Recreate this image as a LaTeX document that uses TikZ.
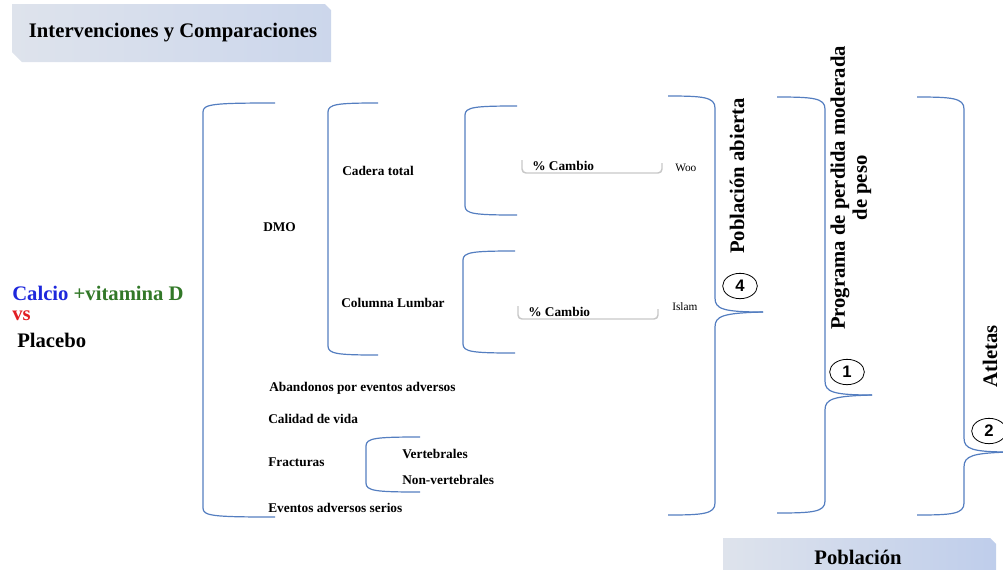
\documentclass[tikz,border=0pt]{standalone}
\usepackage{fontspec}
\setmainfont{Liberation Serif}
\newfontfamily\numfont{Liberation Sans}
\usetikzlibrary{shapes.geometric}
\definecolor{brakblue}{RGB}{84,126,192}
\definecolor{boxblue}{RGB}{160,184,234}
\definecolor{boxgray}{RGB}{222,227,236}
\definecolor{calcioblue}{RGB}{30,40,220}
\definecolor{vitgreen}{RGB}{50,120,40}
\definecolor{vsred}{RGB}{225,30,35}
% square bracket: x, top, bottom, arm end
\newcommand{\sqbrak}[4]{%
  \draw[brak] (#4,#2) .. controls (#1+10,#2) and (#1,#2+1) .. (#1,#2+9)
    -- (#1,#3-9) .. controls (#1,#3-1) and (#1+10,#3) .. (#4,#3);
}
% curly brace: arm start, spine x, top, tip y, bottom, tip x
\newcommand{\curlybrak}[6]{%
  \draw[brak] (#1,#3) .. controls (#2-12,#3) and (#2,#3+1) .. (#2,#3+12)
    -- (#2,#4-14) .. controls (#2,#4-3) and (#2+8,#4) .. (#6,#4);
  \draw[brak] (#6,#4) .. controls (#2+8,#4+1) and (#2,#4+4) .. (#2,#4+15)
    -- (#2,#5-12) .. controls (#2,#5-1) and (#2-12,#5) .. (#1,#5);
}

\begin{document}
\begin{tikzpicture}[x=0.75pt, y=-0.75pt,
    brak/.style={draw=brakblue, line width=0.9pt},
    big/.style={font=\fontsize{15.5}{16.5}\selectfont\bfseries},
    lbl/.style={font=\fontsize{10}{12}\selectfont\bfseries, anchor=west, inner sep=0pt},
    autor/.style={font=\fontsize{8.5}{10}\selectfont, anchor=west, inner sep=0pt},
    tab/.style={draw=black!22, line width=1.1pt, rounded corners=3pt},
    num/.style={draw, ellipse, line width=0.6pt, minimum width=26pt, minimum height=19pt,
      inner sep=0pt, font=\numfont\bfseries\fontsize{12.5}{13}\selectfont},
]
\useasboundingbox (0,0) rectangle (1003,569);

% ---------- header boxes ----------
\shade[left color=boxgray, middle color=boxblue, right color=boxgray!70!boxblue]
  (12,4) -- (325,4) -- (331,10) -- (331,62) -- (22,62) -- (12,52) -- cycle;
\node[big] (titulo) at (173,33) {Intervenciones y Comparaciones};
\shade[left color=boxgray, middle color=boxblue, right color=boxgray!50!boxblue]
  (723,538) -- (990,538) -- (996,544) -- (996,572) -- (723,572) -- cycle;
\node[big] (poblacion) at (858,557) {Población};

% ---------- comparison ----------
\node[big, anchor=west, inner sep=0pt] (calcio) at (12,293)
  {\textcolor{calcioblue}{Calcio} \textcolor{vitgreen}{+vitamina D}};
\node[big, anchor=west, inner sep=0pt, text=vsred] (vs) at (12,316) {vs};
\node[big, anchor=west, inner sep=0pt] (placebo) at (17,340) {Placebo};

% ---------- outcomes ----------
\sqbrak{203}{103}{517}{275}
\node[lbl] (dmo) at (263,227) {DMO};
\sqbrak{328}{103}{355}{378}
\node[lbl] (cadera) at (342,171) {Cadera total};
\node[lbl] (columna) at (341,303) {Columna Lumbar};

\sqbrak{465}{106}{215}{517}
\draw[tab] (522,160) -- (522,173) -- (662,173) -- (662,163);
\node[lbl] (cambioA) at (532,166) {\% Cambio};
\node[autor] (woo) at (675,168) {Woo};

\sqbrak{463}{251}{353}{515}
\draw[tab] (518,306) -- (518,319) -- (658,319) -- (658,309);
\node[lbl] (cambioB) at (528,312) {\% Cambio};
\node[autor] (islam) at (672,307) {Islam};

\node[lbl] (abandonos) at (269,388) {Abandonos por eventos adversos};
\node[lbl] (calidad) at (268,419) {Calidad de vida};
\node[lbl] (fracturas) at (268,462) {Fracturas};
\sqbrak{366}{437}{492}{420}
\node[lbl] (vertebrales) at (402,454) {Vertebrales};
\node[lbl] (nonvert) at (402,480) {Non-vertebrales};
\node[lbl] (eventos) at (268,508) {Eventos adversos serios};

% ---------- populations ----------
\curlybrak{668}{715}{96}{312}{515}{763}
\node[big, rotate=90] (abierta) at (737,176) {Población abierta};
\node[num] (num4) at (740,286) {4};

\curlybrak{777}{825}{97}{395}{513}{872}
\node[big, rotate=90, align=center] (programa) at (851,188)
  {Programa de perdida moderada\\de peso};
\node[num] (num1) at (847,372) {1};

\curlybrak{917}{964}{97}{452}{515}{1010}
\node[big, rotate=90] (atletas) at (990,356) {Atletas};
\node[num] (num2) at (989,431) {2};

\end{tikzpicture}
\end{document}
